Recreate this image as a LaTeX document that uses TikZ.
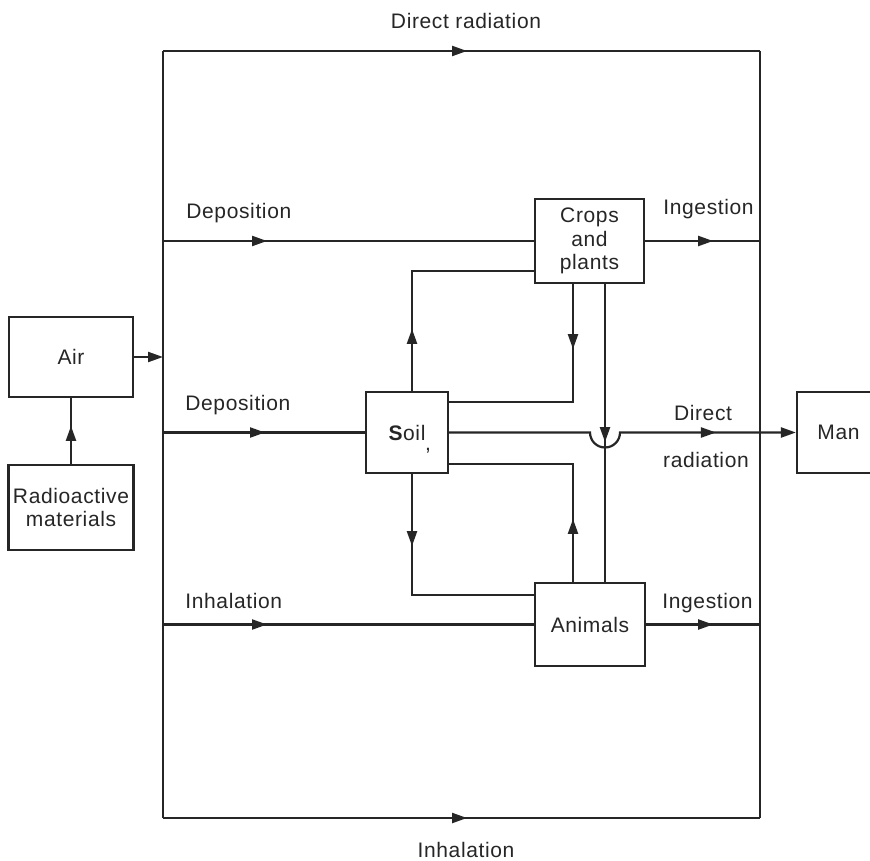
\documentclass[tikz,border=0pt]{standalone}
\usepackage{fontspec}
\setmainfont{Liberation Sans}[LetterSpace=3]
\usetikzlibrary{arrows.meta,decorations.markings}
\begin{document}
\begin{tikzpicture}[x=0.5pt,y=-0.5pt,
  box/.style={draw=black!85, line width=1.1pt, rectangle, inner sep=0pt, align=center,
    text=black!85, font=\fontsize{10.5}{11.8}\selectfont},
  flow/.style={color=black!85, line width=1.1pt},
  lbl/.style={text=black!85, font=\fontsize{10.5}{13}\selectfont, inner sep=0pt},
  tip/.style={-{Triangle[length=7.5pt,width=5pt]}},
  midarrow/.style={postaction={decorate}, decoration={markings,
    mark=at position #1 with {\arrow{Triangle[length=7.5pt,width=5pt]}}}},
]
\path[fill=white, use as bounding box] (0,0) rectangle (870,860);

% compartments
\node[box, minimum width=62pt, minimum height=40pt] (air) at (71,357) {Air};
\node[box, minimum width=62.5pt, minimum height=42.5pt] (rad) at (71,507.5) {Radioactive\\materials};
\node[box, minimum width=41pt, minimum height=40.5pt] (soil) at (407,432.5) {\textbf{S}oil};
\node[lbl] (soilmark) at (428,451) {,};
\node[box, minimum width=54.5pt, minimum height=42pt] (crops) at (589.5,241) {Crops\\and\\plants};
\node[box, minimum width=55pt, minimum height=41.5pt] (animals) at (590,624.5) {Animals};
\node[box, minimum width=41.5pt, minimum height=40.5pt] (man) at (838.5,432.5) {Man};

% collecting lines on the left and right
\coordinate (tl) at (163,51);
\coordinate (tr) at (760,51);
\coordinate (bl) at (163,818);
\coordinate (br) at (760,818);
\draw[flow] (tl) -- (bl);
\draw[flow] (tr) -- (br);
\draw[flow, midarrow=152pt] (tl) -- (tr);
\draw[flow, midarrow=152pt] (bl) -- (br);

% source
\draw[flow, midarrow=19pt] (rad.north) -- (air.south);
\draw[flow, tip] (air.east) -- (air.east -| tl);

% pathways from the air
\draw[flow, midarrow=52pt] (crops.west -| tl) -- (crops.west);
\draw[flow, midarrow=51pt] (soil.west -| tl) -- (soil.west);
\draw[flow, midarrow=52pt] (animals.west -| tl) -- (animals.west);

% ingestion
\draw[flow, midarrow=34pt] (crops.east) -- (crops.east -| tr);
\draw[flow, midarrow=33.5pt] (animals.east) -- (animals.east -| tr);

% exchanges between soil, crops and animals
\coordinate (sc) at (412,271);
\coordinate (cs) at (573,402);
\coordinate (sa) at (412,595);
\coordinate (as) at (573,464);
\coordinate (hop) at (605,432.5);
\coordinate (hopL) at (590,432.5);
\coordinate (hopR) at (620,432.5);
\coordinate (hopB) at (605,447.5);
\draw[flow, midarrow=31pt] (soil.north -| sc) -- (sc) -- (sc -| crops.west);
\draw[flow, midarrow=32.5pt] (crops.south -| cs) -- (cs) -- (cs -| soil.east);
\draw[flow, midarrow=79pt] (crops.south -| hop) -- (animals.north -| hop);
\draw[flow, midarrow=36pt] (soil.south -| sa) -- (sa) -- (sa -| animals.west);
\draw[flow, midarrow=31.5pt] (animals.north -| as) -- (as) -- (as -| soil.east);

% direct radiation from the soil, hopping over the crops line
\draw[flow, tip, midarrow=142pt] (soil.east) -- (hopL)
  .. controls +(0,8.3) and +(-8.3,0) .. (hopB)
  .. controls +(8.3,0) and +(0,8.3) .. (hopR) -- (man.west);

% labels
\node[lbl] (ltop) at (466,21) {Direct radiation};
\node[lbl] (lbot) at (466,850) {Inhalation};
\node[lbl, anchor=west] (ldep1) at (186,213) {Deposition};
\node[lbl, anchor=west] (ldep2) at (185,405) {Deposition};
\node[lbl, anchor=west] (linh) at (185,601) {Inhalation};
\node[lbl, anchor=west] (ling1) at (663,209) {Ingestion};
\node[lbl, anchor=west] (ling2) at (662,603) {Ingestion};
\node[lbl] (ldir1) at (703,413) {Direct};
\node[lbl] (ldir2) at (706,460) {radiation};
\end{tikzpicture}
\end{document}
